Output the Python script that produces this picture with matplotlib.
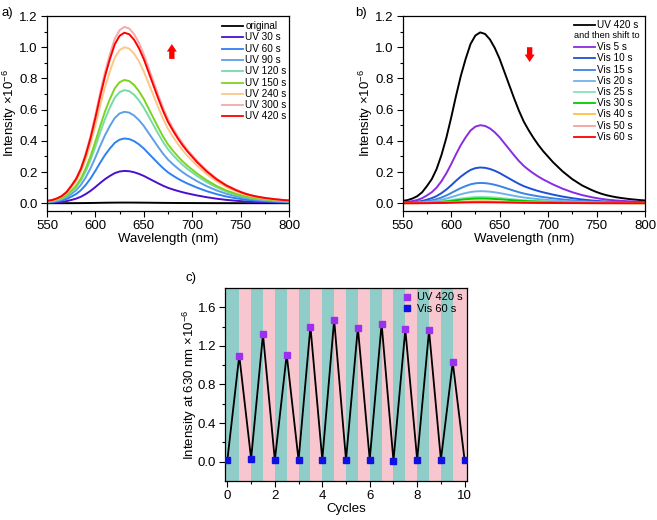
import matplotlib
matplotlib.use('Agg')
import matplotlib.pyplot as plt
import numpy as np

plt.rcParams['font.family'] = ['Liberation Sans', 'DejaVu Sans']
plt.rcParams['mathtext.fontset'] = 'custom'
plt.rcParams['mathtext.rm'] = 'Liberation Sans'
plt.rcParams['mathtext.it'] = 'Liberation Sans'

# perfil do espectro (curva UV 420 s), passo de 5 nm
comprimento_onda = [550, 555, 560, 565, 570, 575, 580, 585, 590, 595,
                    600, 605, 610, 615, 620, 625, 630, 635, 640, 645,
                    650, 655, 660, 665, 670, 675, 680, 685, 690, 695,
                    700, 705, 710, 715, 720, 725, 730, 735, 740, 745,
                    750, 755, 760, 765, 770, 775, 780, 785, 790, 795, 800]
perfil = [0.015, 0.02, 0.03, 0.045, 0.07, 0.11, 0.155, 0.22, 0.31, 0.42,
          0.55, 0.69, 0.82, 0.93, 1.025, 1.08, 1.10, 1.09, 1.055, 1.00,
          0.93, 0.845, 0.76, 0.675, 0.595, 0.525, 0.47, 0.42, 0.375, 0.335,
          0.30, 0.265, 0.235, 0.205, 0.18, 0.155, 0.135, 0.115, 0.10, 0.085,
          0.072, 0.061, 0.052, 0.045, 0.039, 0.034, 0.03, 0.026, 0.023, 0.02, 0.018]

# painel a
rotulos_uv = ['original', 'UV 30 s', 'UV 60 s', 'UV 90 s', 'UV 120 s',
              'UV 150 s', 'UV 240 s', 'UV 300 s', 'UV 420 s']
picos_uv = [0.004, 0.207, 0.415, 0.586, 0.725, 0.79, 1.0, 1.13, 1.093]
cores_uv = ['#000000', '#4B0FD0', '#2F80F0', '#5E9FE6', '#74DCA6',
            '#7ED321', '#FFC68A', '#F7A8A8', '#FF0000']

# painel b
rotulos_vis = ['UV 420 s', 'Vis 5 s', 'Vis 10 s', 'Vis 15 s', 'Vis 20 s',
               'Vis 25 s', 'Vis 30 s', 'Vis 40 s', 'Vis 50 s', 'Vis 60 s']
picos_vis = [1.095, 0.50, 0.229, 0.13, 0.077, 0.04, 0.03, 0.012, 0.01, 0.006]
cores_vis = ['#000000', '#8A2BE2', '#1F4FD8', '#3A84E4', '#72B2EC',
             '#86E2B6', '#00CC00', '#FFC040', '#F5A0A0', '#FF0000']

# painel c
ciclos_uv = [0.5, 1.5, 2.5, 3.5, 4.5, 5.5, 6.5, 7.5, 8.5, 9.5]
intensidade_uv = [1.10, 1.32, 1.11, 1.40, 1.47, 1.39, 1.43, 1.37, 1.36, 1.03]
ciclos_vis = [0, 1, 2, 3, 4, 5, 6, 7, 8, 9, 10]
intensidade_vis = [0.02, 0.03, 0.015, 0.015, 0.02, 0.02, 0.02, 0.01, 0.02, 0.02, 0.015]

FONTE = 9.5
FONTE_LEG = 7.2


def estilo_espectro(ax):
    ax.set_xlim(550, 800)
    ax.set_ylim(-0.05, 1.2)
    ax.set_xticks(np.arange(550, 801, 50))
    ax.set_xticks(np.arange(575, 800, 50), minor=True)
    ax.set_yticks(np.arange(0, 1.21, 0.2))
    ax.set_yticks(np.arange(0.1, 1.2, 0.2), minor=True)
    ax.yaxis.set_major_formatter(plt.FormatStrFormatter('%.1f'))
    ax.tick_params(direction='out', labelsize=FONTE, length=4, width=0.8, pad=2.5)
    ax.tick_params(which='minor', direction='out', length=2.5, width=0.8)
    ax.set_xlabel('Wavelength (nm)', fontsize=FONTE, labelpad=1)
    ax.set_ylabel('Intensity ×10$^{-6}$', fontsize=FONTE, labelpad=0)
    for s in ax.spines.values():
        s.set_linewidth(0.9)


def legenda_manual(ax, entradas, x0, y0, dy):
    # entradas: (rotulo, cor) ; cor None = so texto alinhado com a linha
    for i, (rot, cor) in enumerate(entradas):
        y = y0 - i * dy
        if cor is None:
            ax.text(x0, y, rot, transform=ax.transAxes, fontsize=6.6, va='center', ha='left')
        else:
            ax.plot([x0, x0 + 0.087], [y, y], color=cor, lw=1.3, transform=ax.transAxes)
            ax.text(x0 + 0.095, y, rot, transform=ax.transAxes, fontsize=FONTE_LEG, va='center', ha='left')


fig = plt.figure(figsize=(6.57, 5.2), dpi=100)
ax_a = fig.add_axes([0.0715, 0.5942, 0.3683, 0.375])
ax_b = fig.add_axes([0.6129, 0.5942, 0.3688, 0.375])
ax_c = fig.add_axes([0.3425, 0.075, 0.3683, 0.3712])

pico_perfil = max(perfil)
x = np.array(comprimento_onda)
p = np.array(perfil) / pico_perfil

seta = dict(arrowstyle='simple,head_width=0.6,head_length=0.45,tail_width=0.32',
            color='red', lw=0, shrinkA=0, shrinkB=0, mutation_scale=12)

# a)
for rot, pico, cor in zip(rotulos_uv, picos_uv, cores_uv):
    ax_a.plot(x, p * pico, color=cor, lw=1.4)
estilo_espectro(ax_a)
legenda_manual(ax_a, list(zip(rotulos_uv, cores_uv)), 0.724, 0.949, 0.058)
ax_a.annotate('', xy=(679, 1.02), xytext=(679, 0.925), arrowprops=seta)
fig.text(0.003, 0.975, 'a)', fontsize=FONTE, va='center')

# b)
for rot, pico, cor in zip(rotulos_vis, picos_vis, cores_vis):
    ax_b.plot(x, p * pico, color=cor, lw=1.4)
estilo_espectro(ax_b)
entradas_b = [(rotulos_vis[0], cores_vis[0]), ('and then shift to', None)] + \
    list(zip(rotulos_vis[1:], cores_vis[1:]))
legenda_manual(ax_b, entradas_b, 0.707, 0.956, 0.0576)
ax_b.annotate('', xy=(681, 0.905), xytext=(681, 1.0), arrowprops=seta)
fig.text(0.540, 0.975, 'b)', fontsize=FONTE, va='center')

# c)
for c in ciclos_vis[:-1]:
    ax_c.axvspan(c if c > 0 else -0.2, c + 0.5, color='#90CDC9', lw=0, zorder=0)
    ax_c.axvspan(c + 0.5, c + 1 if c < 9 else 10.2, color='#F7C6CF', lw=0, zorder=0)
xs = sorted(ciclos_uv + ciclos_vis)
ys = [dict(zip(ciclos_uv + ciclos_vis, intensidade_uv + intensidade_vis))[k] for k in xs]
ax_c.plot(xs, ys, color='black', lw=1.3, zorder=2)
ax_c.plot(ciclos_uv, intensidade_uv, 's', color='#9B30F0', ms=4.5, ls='none', label='UV 420 s', zorder=3)
ax_c.plot(ciclos_vis, intensidade_vis, 's', color='#1010E0', ms=4.5, ls='none', label='Vis 60 s', zorder=3)
ax_c.set_xlim(-0.1, 10.1)
ax_c.set_ylim(-0.2, 1.8)
ax_c.set_xticks(np.arange(0, 11, 2))
ax_c.set_xticks(np.arange(1, 10, 2), minor=True)
ax_c.set_yticks(np.arange(0, 1.61, 0.4))
ax_c.set_yticks(np.arange(0.2, 1.8, 0.4), minor=True)
ax_c.yaxis.set_major_formatter(plt.FormatStrFormatter('%.1f'))
ax_c.tick_params(direction='out', labelsize=FONTE, length=4, width=0.8, pad=2.5)
ax_c.tick_params(which='minor', direction='out', length=2.5, width=0.8)
ax_c.set_xlabel('Cycles', fontsize=FONTE, labelpad=1)
ax_c.set_ylabel('Intensity at 630 nm ×10$^{-6}$', fontsize=FONTE, labelpad=-1)
for s in ax_c.spines.values():
    s.set_linewidth(0.9)
ax_c.legend(loc='upper right', frameon=False, fontsize=8, handlelength=1, handletextpad=0.4,
            labelspacing=0.15, borderaxespad=0.2, borderpad=0.2)
fig.text(0.283, 0.465, 'c)', fontsize=FONTE, va='center')

fig.savefig('out.png', dpi=100)
